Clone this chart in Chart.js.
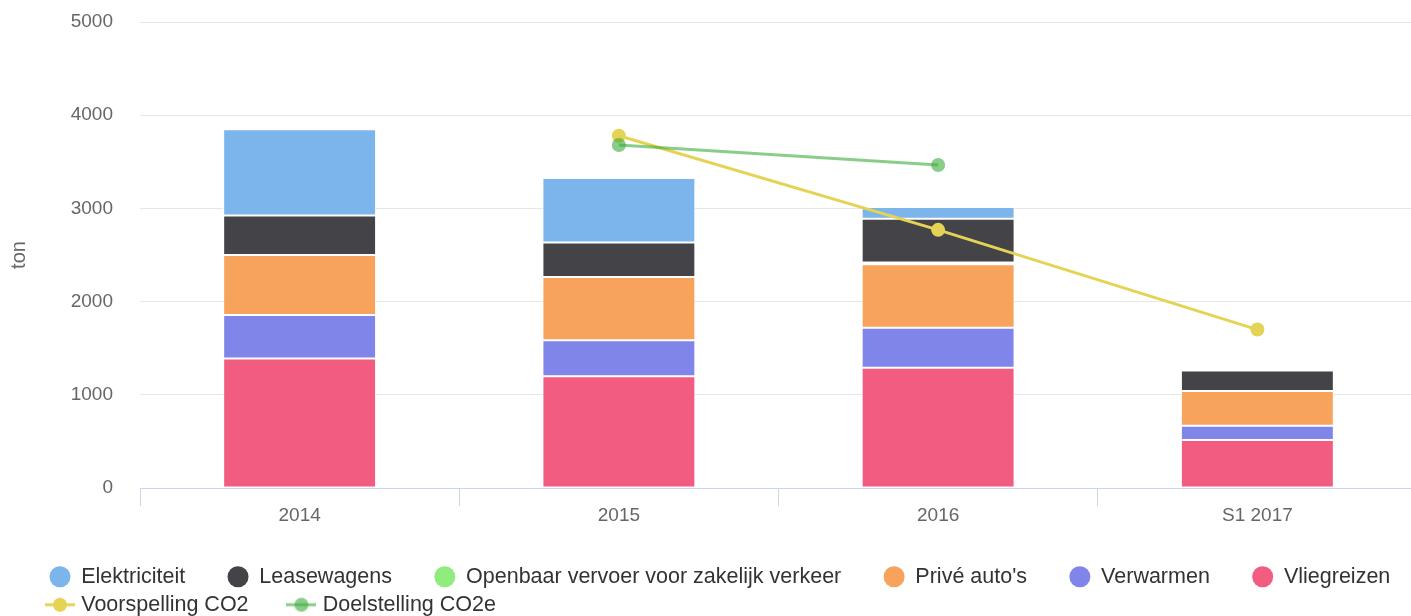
<!DOCTYPE html>
<html>
<head>
<meta charset="utf-8">
<title>CO2</title>
<script src="https://cdn.jsdelivr.net/npm/chart.js@4.4.1/dist/chart.umd.min.js"></script>
<style>
body { margin: 0; background: #fff; }
#wrap { width: 1411px; height: 616px; position: relative; }
</style>
</head>
<body>
<div id="wrap"><canvas id="chartco2"></canvas></div>
<script>
// data (ton)
var categories = ['2014', '2015', '2016', 'S1 2017'];
var elektriciteit = [925, 690, 125, 0];
var leasewagens = [425, 370, 470, 222];
var openbaarVervoer = [0, 0, 20, 0];
var priveAutos = [645, 680, 680, 372];
var verwarmen = [465, 385, 430, 153];
var vliegreizen = [1390, 1200, 1290, 515];
var voorspellingCO2 = [null, 3780, 2770, 1700];
var doelstellingCO2e = [null, 3680, 3465, null];
var yTicks = [0, 1000, 2000, 3000, 4000, 5000];

var legendOrder = ['Elektriciteit', 'Leasewagens', 'Openbaar vervoer voor zakelijk verkeer',
    "Privé auto's", 'Verwarmen', 'Vliegreizen', 'Voorspelling CO2', 'Doelstelling CO2e'];
var rowEnds = ['Vliegreizen', 'Doelstelling CO2e'];

Chart.defaults.font.family = '"Liberation Sans", Arial, Helvetica, sans-serif';

// line + marker symbol for the legend
function lineSymbol(color) {
    var c = document.createElement('canvas');
    c.width = 30;
    c.height = 16;
    var g = c.getContext('2d');
    g.strokeStyle = color;
    g.lineWidth = 3;
    g.beginPath();
    g.moveTo(0, 8);
    g.lineTo(30, 8);
    g.stroke();
    g.fillStyle = color;
    g.beginPath();
    g.arc(15, 8, 7, 0, Math.PI * 2);
    g.fill();
    return c;
}

function barSet(label, data, color) {
    return {
        type: 'bar',
        label: label,
        data: data,
        backgroundColor: color,
        borderColor: '#ffffff',
        borderWidth: 1,
        borderSkipped: false,
        categoryPercentage: 1,
        barPercentage: 0.479,
        order: 1
    };
}

function lineSet(label, data, color, stack) {
    return {
        type: 'line',
        label: label,
        data: data,
        stack: stack,
        borderColor: color,
        backgroundColor: color,
        borderWidth: 3,
        pointRadius: 7,
        pointBorderWidth: 0,
        pointBackgroundColor: color,
        fill: false,
        tension: 0,
        order: 0,
        legendSymbol: lineSymbol(color)
    };
}

var green = 'rgba(60,170,60,0.6)';
var yellow = '#e4d354';

// the plot runs a few px past the right edge in the original,
// and the legend sits a bit right / down
var layoutFix = {
    id: 'layoutFix',
    afterLayout: function (chart) {
        var extra = 6;
        chart.chartArea.right += extra;
        chart.chartArea.width += extra;
        var x = chart.scales.x;
        x.right += extra;
        x.width += extra;
        x.configure();
        chart.legend.left = 43;
        chart.legend.top += 9.5;
    }
};

var ctx_chart = document.getElementById('chartco2').getContext('2d');
var chart = new Chart(ctx_chart, {
    data: {
        labels: categories,
        datasets: [
            lineSet('Doelstelling CO2e', doelstellingCO2e, green, 'doel'),
            lineSet('Voorspelling CO2', voorspellingCO2, yellow, 'voorspelling'),
            barSet('Vliegreizen', vliegreizen, '#f15c80'),
            barSet('Verwarmen', verwarmen, '#8085e9'),
            barSet("Privé auto's", priveAutos, '#f7a35c'),
            barSet('Openbaar vervoer voor zakelijk verkeer', openbaarVervoer, '#90ed7d'),
            barSet('Leasewagens', leasewagens, '#434348'),
            barSet('Elektriciteit', elektriciteit, '#7cb5ec')
        ]
    },
    options: {
        responsive: true,
        maintainAspectRatio: false,
        animation: false,
        layout: { autoPadding: false, padding: { top: 22, right: 0, bottom: 0, left: 0 } },
        plugins: {
            tooltip: { enabled: false },
            legend: {
                position: 'bottom',
                align: 'start',
                labels: {
                    color: '#333333',
                    font: { size: 21.5 },
                    usePointStyle: true,
                    pointStyleWidth: 21,
                    boxHeight: 15,
                    padding: 6.5,
                    generateLabels: function (chart) {
                        var items = Chart.defaults.plugins.legend.labels.generateLabels(chart);
                        items.forEach(function (it) {
                            var ds = chart.data.datasets[it.datasetIndex];
                            if (rowEnds.indexOf(it.text) < 0) {
                                it.text = it.text + '      ';
                            }
                            it.lineWidth = 0;
                            it.pointStyle = ds.type === 'line' ? ds.legendSymbol : 'circle';
                        });
                        return items;
                    },
                    sort: function (a, b) {
                        return legendOrder.indexOf(a.text.trim()) - legendOrder.indexOf(b.text.trim());
                    }
                }
            }
        },
        scales: {
            x: {
                stacked: true,
                offset: true,
                grid: { drawOnChartArea: false, color: '#ccd6eb', tickLength: 18, offset: true },
                border: { color: '#ccd6eb' },
                ticks: { color: '#666666', font: { size: 19 }, padding: -2 },
                afterFit: function (s) { s.height = 62; }
            },
            y: {
                stacked: true,
                min: yTicks[0],
                max: yTicks[yTicks.length - 1],
                afterBuildTicks: function (s) {
                    s.ticks = yTicks.map(function (v) { return { value: v }; });
                },
                ticks: {
                    color: '#666666',
                    font: { size: 19 },
                    padding: 0,
                    callback: function (v) { return String(v); }
                },
                grid: {
                    drawTicks: true,
                    tickLength: 27,
                    tickColor: 'rgba(0,0,0,0)',
                    color: function (c) { return c.tick && c.tick.value === 0 ? 'rgba(0,0,0,0)' : '#e6e6e6'; }
                },
                border: { display: false },
                title: {
                    display: true,
                    text: 'ton',
                    color: '#666666',
                    font: { size: 20 },
                    padding: { top: 7, bottom: 0 }
                },
                afterFit: function (s) { s.width = 140; }
            }
        }
    },
    plugins: [layoutFix]
});
</script>
</body>
</html>
